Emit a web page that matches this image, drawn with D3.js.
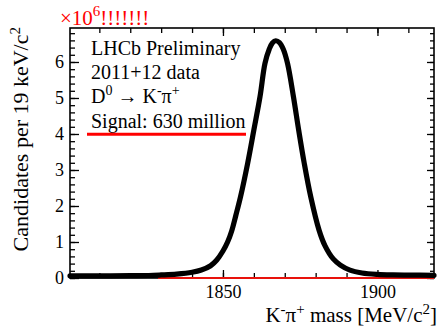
<!DOCTYPE html>
<html>
<head>
<meta charset="utf-8">
<script src="https://cdn.jsdelivr.net/npm/d3@7"></script>
<style>
  body { margin: 0; background: #fff; }
  text { font-family: "Liberation Serif", "Times New Roman", serif; fill: #000; }
</style>
</head>
<body>
<script>
// D0 -> K pi mass spectrum, values in millions of candidates per bin
var massValues = [1800.5, 1810, 1820, 1826, 1830, 1835, 1840, 1843, 1846, 1848, 1850, 1851.5, 1852.8, 1854.2, 1855.7, 1858, 1860, 1862, 1863.6, 1865, 1866, 1867.1, 1868.3, 1869.5, 1870.9, 1872.8, 1874.5, 1876.3, 1878.4, 1881.1, 1883, 1885.7, 1888, 1891.1, 1895, 1900, 1905, 1910, 1918.3];
var candValues = [0.06, 0.06, 0.065, 0.07, 0.085, 0.11, 0.16, 0.22, 0.34, 0.5, 0.75, 1.0, 1.3, 1.75, 2.26, 3.19, 4.11, 5.04, 5.96, 6.36, 6.53, 6.59, 6.54, 6.36, 5.96, 5.04, 4.11, 3.19, 2.26, 1.33, 0.9, 0.53, 0.36, 0.22, 0.14, 0.1, 0.085, 0.08, 0.075];

// background component (red), essentially zero
var bkgMass = [1829, 1860, 1890, 1918.3];
var bkgValues = [0.0, 0.0, 0.0, 0.0];

var yMajor = [0, 1, 2, 3, 4, 5, 6];
var xMajor = [1850, 1900];

var textLines = ["LHCb Preliminary", "2011+12 data", "D0 -> K-pi+", "Signal: 630 million"];

var width = 441, height = 327;
var margin = {left: 70, right: 7, top: 28, bottom: 49};

var x = d3.scaleLinear().domain([1800.5, 1918.3]).range([margin.left, width - margin.right]);
var y = d3.scaleLinear().domain([0, 6.944]).range([height - margin.bottom, margin.top]);

var svg = d3.select("body").append("svg").attr("width", width).attr("height", height);
svg.append("rect").attr("width", width).attr("height", height).attr("fill", "#fff");

var x0 = margin.left, x1 = width - margin.right, y0 = height - margin.bottom, y1 = margin.top;

// minor ticks
var yMinor = d3.range(0, 6.95, 0.2);
var xMinor = d3.range(1810, 1919, 10);

function minor(axis, tv, size) {
  return axis.tickValues(tv).tickSize(size).tickFormat("");
}

svg.append("g").attr("transform", "translate(" + x0 + ",0)")
  .call(minor(d3.axisLeft(y), yMinor, -5));
svg.append("g").attr("transform", "translate(" + x1 + ",0)")
  .call(minor(d3.axisRight(y), yMinor, -4));
svg.append("g").attr("transform", "translate(0," + y0 + ")")
  .call(minor(d3.axisBottom(x), xMinor, -5));
svg.append("g").attr("transform", "translate(0," + y1 + ")")
  .call(minor(d3.axisTop(x), xMinor, -5));

// major ticks with labels
var yAxis = d3.axisLeft(y).tickValues(yMajor).tickSize(-9).tickPadding(6).tickFormat(d3.format("d"));
var gy = svg.append("g").attr("transform", "translate(" + x0 + ",0)").call(yAxis);
svg.append("g").attr("transform", "translate(" + x1 + ",0)")
  .call(d3.axisRight(y).tickValues(yMajor).tickSize(-7).tickFormat(""));

var xAxis = d3.axisBottom(x).tickValues(xMajor).tickSize(-8).tickPadding(7).tickFormat(d3.format("d"));
var gx = svg.append("g").attr("transform", "translate(0," + y0 + ")").call(xAxis);
svg.append("g").attr("transform", "translate(0," + y1 + ")")
  .call(d3.axisTop(x).tickValues(xMajor).tickSize(-8).tickFormat(""));

svg.selectAll(".domain").remove();
svg.selectAll(".tick line").attr("stroke", "#000").attr("stroke-width", 1.3);
svg.selectAll(".tick text").style("font-family", "Liberation Serif").style("font-size", "18px").attr("fill", "#000");

// frame
svg.append("rect").attr("x", x0).attr("y", y1).attr("width", x1 - x0).attr("height", y0 - y1)
  .attr("fill", "none").attr("stroke", "#000").attr("stroke-width", 1.6);

// background fit
var bkgLine = d3.line().x(function(d, i) { return x(bkgMass[i]); }).y(function(d) { return y(d); });
svg.append("path").attr("d", bkgLine(bkgValues))
  .attr("fill", "none").attr("stroke", "#e8120c").attr("stroke-width", 2.2);

// data
var dataLine = d3.line()
  .x(function(d, i) { return x(massValues[i]); })
  .y(function(d) { return y(d); })
  .curve(d3.curveCatmullRom.alpha(0.5));
svg.append("path").attr("d", dataLine(candValues))
  .attr("fill", "none").attr("stroke", "#000").attr("stroke-width", 5.2)
  .attr("stroke-linecap", "round").attr("stroke-linejoin", "round");

// exponent marker
var ex = svg.append("text").attr("x", 60).attr("y", 25).style("font-size", "21px").style("fill", "red");
ex.append("tspan").text("\u00d710");
ex.append("tspan").attr("dy", -9).style("font-size", "15px").text("6");
ex.append("tspan").attr("dy", 9).text("!!!!!!!");

// legend text
var tx = 91, lh = 24.2, ty = 55;
svg.append("text").attr("x", tx).attr("y", ty).style("font-size", "20px").text(textLines[0]);
svg.append("text").attr("x", tx).attr("y", ty + lh).style("font-size", "20px").text(textLines[1]);
var dt = svg.append("text").attr("x", tx).attr("y", ty + 2 * lh).style("font-size", "20px");
dt.append("tspan").text("D");
dt.append("tspan").attr("dy", -8).style("font-size", "14px").text("0");
dt.append("tspan").attr("dy", 8).text(" \u2192 K");
dt.append("tspan").attr("dy", -8).style("font-size", "14px").text("-");
dt.append("tspan").attr("dy", 8).text("\u03c0");
dt.append("tspan").attr("dy", -8).style("font-size", "14px").text("+");
svg.append("text").attr("x", tx).attr("y", ty + 3 * lh).style("font-size", "20px").text(textLines[3]);
svg.append("line").attr("x1", 87).attr("x2", 246).attr("y1", 134.3).attr("y2", 134.3)
  .attr("stroke", "#f00").attr("stroke-width", 3);

// axis titles
var xt = svg.append("text").attr("x", 437).attr("y", 321.5).attr("text-anchor", "end").style("font-size", "21px");
xt.append("tspan").text("K");
xt.append("tspan").attr("dy", -8).style("font-size", "15px").text("-");
xt.append("tspan").attr("dy", 8).text("\u03c0");
xt.append("tspan").attr("dy", -8).style("font-size", "15px").text("+");
xt.append("tspan").attr("dy", 8).text(" mass [MeV/c");
xt.append("tspan").attr("dy", -8).style("font-size", "15px").text("2");
xt.append("tspan").attr("dy", 8).text("]");

var yt = svg.append("text").attr("transform", "translate(28,27) rotate(-90)").attr("text-anchor", "end").style("font-size", "22px");
yt.append("tspan").text("Candidates per 19 keV/c");
yt.append("tspan").attr("dy", -8).style("font-size", "15px").text("2");
</script>
</body>
</html>
